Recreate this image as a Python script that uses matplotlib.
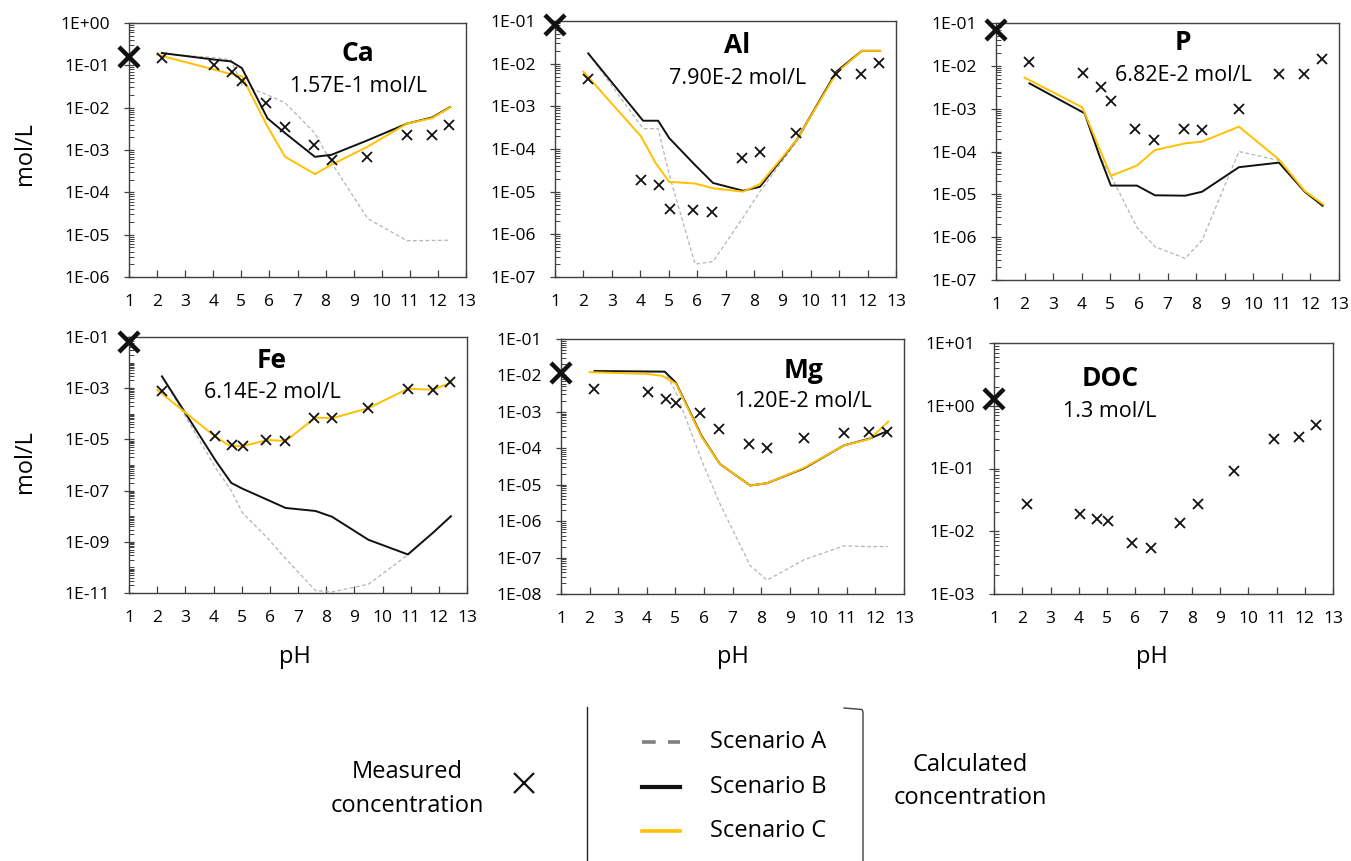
import numpy as np
import matplotlib
matplotlib.use('Agg')
import matplotlib.pyplot as plt
from matplotlib.ticker import LogLocator, FixedLocator, FuncFormatter, NullFormatter

plt.rcParams['font.family'] = ['Open Sans', 'DejaVu Sans']

# pH of the measured extracts
ph_meas = [2.17, 4.04, 4.66, 5.04, 5.87, 6.54, 7.58, 8.22, 9.49, 10.9, 11.78, 12.41]
# pH of the model runs (scenario C starts a bit lower)
ph_calc = [2.17, 4.1, 4.63, 5.02, 5.93, 6.56, 7.62, 8.21, 9.5, 10.9, 11.8, 12.43]
ph_calc_c = [2.0, 4.02, 4.55, 5.02, 5.93, 6.56, 7.62, 8.21, 9.5, 10.9, 11.8, 12.45]

# measured concentrations (mol/L)
ca_meas = [0.15, 0.1, 0.069, 0.042, 0.0129, 0.0035, 0.0013, 0.00057, 0.00069, 0.0023, 0.0023, 0.0039]
al_meas = [0.0044, 1.86e-5, 1.4e-5, 3.9e-6, 3.7e-6, 3.4e-6, 6.0e-5, 8.3e-5, 2.4e-4, 0.0057, 0.0057, 0.0102]
p_meas = [0.0123, 0.0068, 0.0032, 0.0015, 3.4e-4, 1.9e-4, 3.3e-4, 3.2e-4, 1.0e-3, 0.0063, 0.0063, 0.0147]
fe_meas = [8.1e-4, 1.4e-5, 5.8e-6, 5.4e-6, 9.5e-6, 8.7e-6, 7.1e-5, 6.7e-5, 1.66e-4, 9.5e-4, 8.7e-4, 1.67e-3]
mg_meas = [4.3e-3, 3.5e-3, 2.3e-3, 1.8e-3, 9.1e-4, 3.3e-4, 1.3e-4, 1.0e-4, 1.9e-4, 2.7e-4, 2.8e-4, 2.8e-4]
doc_meas = [0.0276, 0.019, 0.0158, 0.0148, 0.0066, 0.0055, 0.0136, 0.027, 0.091, 0.29, 0.32, 0.49]

# calculated concentrations, scenario A / B / C
ca_a = [0.19, 0.15, 0.135, 0.035, 0.02, 0.013, 0.0025, 0.0005, 2.4e-5, 7.2e-6, 7.3e-6, 7.4e-6]
ca_b = [0.195, 0.135, 0.124, 0.086, 0.0056, 0.0025, 0.00069, 0.00077, 0.0017, 0.0042, 0.0059, 0.0103]
ca_c = [0.178, 0.08, 0.064, 0.055, 0.0036, 0.00069, 0.00027, 0.00045, 0.0012, 0.0042, 0.0057, 0.0103]

al_a = [0.0174, 3.0e-4, 3.0e-4, 2.5e-5, 2.0e-7, 2.3e-7, 2.5e-6, 1.0e-5, 1.5e-4, 0.0063, 0.02, 0.02]
al_b = [0.0174, 4.6e-4, 4.6e-4, 1.8e-4, 4.2e-5, 1.6e-5, 1.05e-5, 1.3e-5, 1.6e-4, 0.0065, 0.02, 0.02]
al_c = [0.0065, 2.0e-4, 4.6e-5, 1.7e-5, 1.55e-5, 1.2e-5, 1.0e-5, 1.5e-5, 1.6e-4, 0.006, 0.02, 0.02]

p_a = [0.0039, 7.8e-4, 7.6e-5, 2.7e-5, 1.7e-6, 6.0e-7, 3.2e-7, 8.5e-7, 1.0e-4, 6.2e-5, 1.15e-5, 5.4e-6]
p_b = [0.0039, 7.8e-4, 7.6e-5, 1.6e-5, 1.6e-5, 9.5e-6, 9.3e-6, 1.15e-5, 4.3e-5, 5.5e-5, 1.15e-5, 5.4e-6]
p_c = [0.0053, 1.07e-3, 1.5e-4, 2.7e-5, 4.7e-5, 1.08e-4, 1.55e-4, 1.7e-4, 3.8e-4, 6.5e-5, 1.2e-5, 5.8e-6]

fe_a = [2.9e-3, 7.0e-7, 1.0e-7, 1.4e-8, 1.35e-9, 2.2e-10, 1.25e-11, 1.1e-11, 2.2e-11, 3.1e-10, 2.3e-9, 1.0e-8]
fe_b = [2.9e-3, 1.35e-6, 2.0e-7, 1.2e-7, 4.3e-8, 2.1e-8, 1.6e-8, 9.5e-9, 1.2e-9, 3.2e-10, 2.3e-9, 1.0e-8]
fe_c = [8.7e-4, 1.4e-5, 5.8e-6, 5.4e-6, 9.5e-6, 8.7e-6, 7.1e-5, 6.7e-5, 1.66e-4, 9.5e-4, 8.7e-4, 1.67e-3]

mg_a = [0.0132, 0.0128, 0.0127, 0.0035, 4.5e-5, 3.0e-6, 6.0e-8, 2.4e-8, 8.7e-8, 2.1e-7, 2.0e-7, 2.0e-7]
mg_b = [0.0132, 0.0128, 0.0127, 0.0063, 2.1e-4, 3.7e-5, 9.5e-6, 1.1e-5, 2.8e-5, 1.2e-4, 1.85e-4, 3.0e-4]
mg_c = [0.0123, 0.011, 0.0097, 0.006, 2.0e-4, 3.7e-5, 9.5e-6, 1.1e-5, 2.9e-5, 1.2e-4, 1.8e-4, 5.4e-4]

# initial concentration of the leachant (plotted at pH 1)
names = ['Ca', 'Al', 'P', 'Fe', 'Mg', 'DOC']
initial = [0.157, 0.079, 0.0682, 0.0614, 0.012, 1.3]
initial_lbl = ['1.57E-1 mol/L', '7.90E-2 mol/L', '6.82E-2 mol/L',
               '6.14E-2 mol/L', '1.20E-2 mol/L', '1.3 mol/L']
measured = [ca_meas, al_meas, p_meas, fe_meas, mg_meas, doc_meas]
scen_a = [ca_a, al_a, p_a, fe_a, mg_a, None]
scen_b = [ca_b, al_b, p_b, fe_b, mg_b, None]
scen_c = [ca_c, al_c, p_c, fe_c, mg_c, None]

# layout (pixels of the 1351x861 picture)
W, H = 1351., 861.
boxes = [(129, 466, 23, 277), (555, 896, 21, 277), (996, 1339, 23, 280),
         (129, 467, 337, 593), (561, 904, 339, 594), (994, 1333, 343, 594)]
ylims = [(-6, 0), (-7, -1), (-7, -1), (-11, -1), (-8, -1), (-3, 1)]
ystep = [1, 1, 1, 2, 1, 1]
name_pos = [(0.68, 0.88, 0.75), (0.534, 0.906, 0.777), (0.545, 0.926, 0.794),
            (0.423, 0.91, 0.785), (0.706, 0.878, 0.753), (0.342, 0.86, 0.729)]

gold = '#FFC000'
fig = plt.figure(figsize=(13.51, 8.61), dpi=100)


def efmt(v, pos):
    e = int(round(np.log10(v)))
    return '1E{:+03d}'.format(e)


for i in range(6):
    l, r, t, b = boxes[i]
    ax = fig.add_axes([l / W, 1 - b / H, (r - l) / W, (b - t) / H])
    ax.set_yscale('log')
    ax.set_xlim(1, 13)
    lo, hi = ylims[i]
    ax.set_ylim(10. ** lo, 10. ** hi)

    if scen_a[i] is not None:
        ax.plot(ph_calc, scen_a[i], color='#b4b4b4', lw=0.9, dashes=(3, 2))
        ax.plot(ph_calc, scen_b[i], color='#111111', lw=1.4)
        ax.plot(ph_calc_c, scen_c[i], color=gold, lw=1.4)
    ax.plot(ph_meas, measured[i], ls='none', marker='x', ms=7.5, mew=1.3, color='#111111')
    ax.plot([1], [initial[i]], ls='none', marker='x', ms=14, mew=3.2,
            color='#111111', clip_on=False, zorder=5)

    fx, fy1, fy2 = name_pos[i]
    ax.text(fx, fy1, names[i], transform=ax.transAxes, ha='center', va='center',
            fontsize=19, fontweight='bold')
    ax.text(fx, fy2, initial_lbl[i], transform=ax.transAxes, ha='center', va='center',
            fontsize=15.5)

    ax.set_xticks(range(1, 14))
    ax.yaxis.set_major_locator(FixedLocator(10. ** np.arange(lo, hi + 1, ystep[i])))
    ax.yaxis.set_minor_locator(LogLocator(base=10., subs=np.arange(1, 10), numticks=40))
    ax.yaxis.set_major_formatter(FuncFormatter(efmt))
    ax.yaxis.set_minor_formatter(NullFormatter())
    ax.tick_params(axis='x', direction='in', length=5, width=0.9, color='#404040',
                   labelsize=12.5, pad=12)
    ax.tick_params(axis='y', which='major', direction='inout', length=7, width=0.9,
                   color='#404040', labelsize=12.5, pad=10)
    ax.tick_params(axis='y', which='minor', direction='in', length=3.5, width=0.7,
                   color='#404040')
    for s in ax.spines.values():
        s.set_color('#404040')
        s.set_linewidth(1.0)

# axis titles
for yc in [154, 462]:
    fig.text(25 / W, 1 - yc / H, 'mol/L', rotation=90, ha='center', va='center', fontsize=17)
for xc in [295, 733, 1152]:
    fig.text(xc / W, 1 - 657 / H, 'pH', ha='center', va='center', fontsize=17)

# legend drawn in picture pixels on an overlay axes
lg = fig.add_axes([0, 0, 1, 1])
lg.set_xlim(0, W)
lg.set_ylim(H, 0)
lg.axis('off')
lg.text(407, 772, 'Measured', ha='center', va='center', fontsize=17)
lg.text(407, 806, 'concentration', ha='center', va='center', fontsize=17)
lg.plot([524], [783], ls='none', marker='x', ms=14, mew=1.6, color='#111111')
lg.plot([587, 587], [707, 861], color='#222222', lw=1.0)
lg.plot([642, 680], [742, 742], color='#808080', lw=2.6, dashes=(3.8, 3.4))
lg.plot([642, 680], [787, 787], color='#111111', lw=3.0)
lg.plot([642, 680], [831, 831], color=gold, lw=2.6)
for yy, lab in zip([742, 787, 831], ['Scenario A', 'Scenario B', 'Scenario C']):
    lg.text(710, yy, lab, ha='left', va='center', fontsize=17)
lg.plot([844, 862, 863, 863], [708, 709.5, 712, 861], color='#404040', lw=1.0)
lg.text(970, 765, 'Calculated', ha='center', va='center', fontsize=17)
lg.text(970, 798, 'concentration', ha='center', va='center', fontsize=17)

fig.savefig('out.png', dpi=100)
